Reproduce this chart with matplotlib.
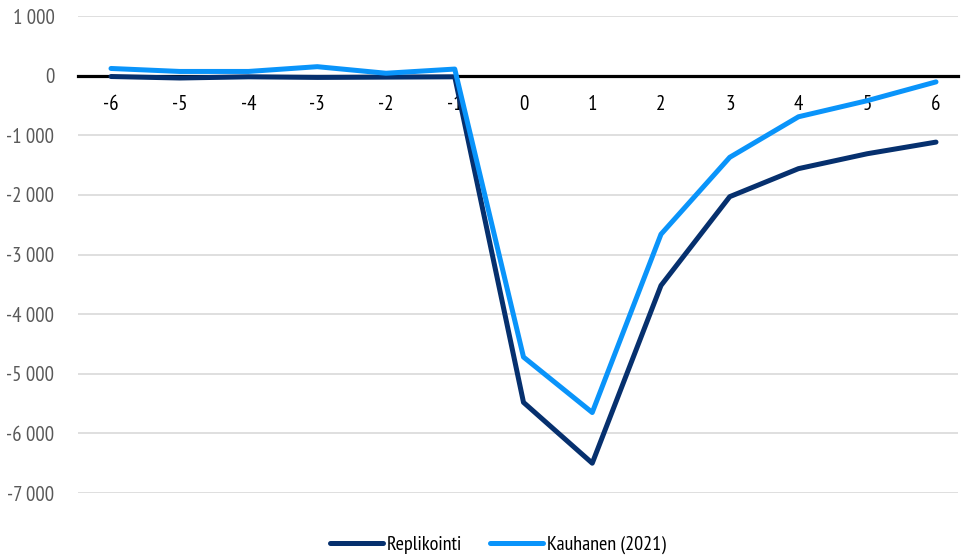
import matplotlib.pyplot as plt
from matplotlib.ticker import FuncFormatter

years = [-6, -5, -4, -3, -2, -1, 0, 1, 2, 3, 4, 5, 6]
replikointi = [-15, -40, -20, -30, -25, -20, -5480, -6500, -3520, -2030, -1560, -1310, -1115]
kauhanen = [120, 70, 70, 150, 40, 110, -4720, -5650, -2660, -1370, -690, -420, -105]

plt.rcParams['font.family'] = ['PT Sans Narrow', 'DejaVu Sans']

fig = plt.figure(figsize=(9.61, 5.57), dpi=100)
ax = fig.add_axes([78 / 961, 64 / 557, 880 / 961, 477 / 557])

ax.plot(years, replikointi, color='#06306e', lw=3.6, label='Replikointi', zorder=3,
        solid_capstyle='round')
ax.plot(years, kauhanen, color='#0a94fa', lw=3.6, label='Kauhanen (2021)', zorder=3,
        solid_capstyle='round')

ax.set_xlim(-6.48, 6.32)
ax.set_ylim(-7000, 1000)
ax.set_yticks(range(-7000, 1001, 1000))
ax.yaxis.set_major_formatter(FuncFormatter(lambda v, p: f"{int(v):,}".replace(',', ' ')))
ax.set_xticks(years)
ax.set_xticklabels([str(y) for y in years])

ax.grid(axis='y', color='#d9d9d9', lw=1.2)
ax.set_axisbelow(True)
for s in ['top', 'right', 'left']:
    ax.spines[s].set_visible(False)
ax.spines['bottom'].set_position(('data', 0))
ax.spines['bottom'].set_linewidth(2.3)
ax.spines['bottom'].set_zorder(2.5)

ax.tick_params(axis='x', length=0, pad=14, labelsize=15, colors='black')
ax.tick_params(axis='y', length=0, pad=17, labelsize=15, colors='#595959')

fig.legend(loc='lower center', bbox_to_anchor=(0.518, -0.028), ncol=2, frameon=False,
           fontsize=14.5, handlelength=2.6, columnspacing=1.4, handletextpad=0.2)

fig.savefig('out.png')
